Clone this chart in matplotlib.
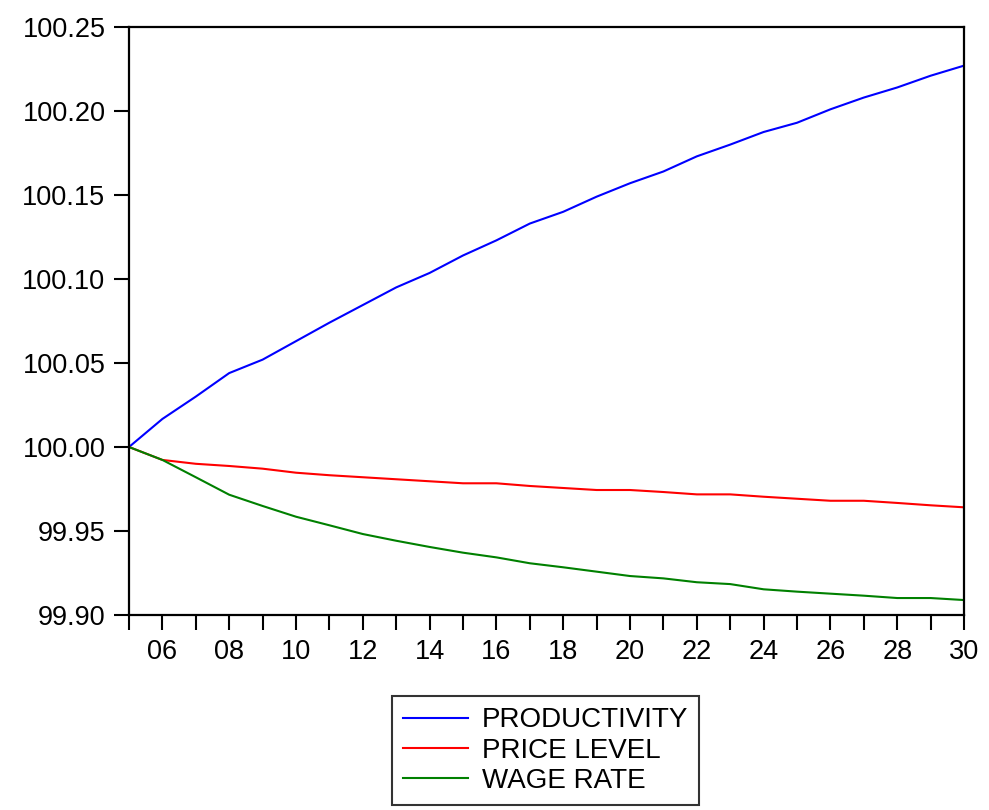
import matplotlib
matplotlib.use("Agg")
import matplotlib.pyplot as plt
from matplotlib.lines import Line2D

years = list(range(2005, 2031))
productivity = [100.000, 100.0167, 100.030, 100.044, 100.052, 100.063, 100.074, 100.0845,
                100.095, 100.1036, 100.114, 100.123, 100.133, 100.140, 100.149, 100.157,
                100.164, 100.173, 100.180, 100.1875, 100.193, 100.201, 100.208, 100.214,
                100.221, 100.227]
price_level = [100.000, 99.9923, 99.9900, 99.9887, 99.9871, 99.9847, 99.9832, 99.9820,
               99.9808, 99.9796, 99.9784, 99.9784, 99.9768, 99.9756, 99.9744, 99.9744,
               99.9732, 99.9718, 99.9718, 99.9704, 99.9692, 99.9680, 99.9680, 99.9667,
               99.9653, 99.9641]
wage_rate = [100.000, 99.9923, 99.9820, 99.9716, 99.9649, 99.9585, 99.9534, 99.9482,
             99.9442, 99.9405, 99.9371, 99.9343, 99.9308, 99.9284, 99.9258, 99.9232,
             99.9218, 99.9195, 99.9184, 99.9153, 99.9139, 99.9127, 99.9115, 99.9101,
             99.9101, 99.9089]
series_names = ["PRODUCTIVITY", "PRICE LEVEL", "WAGE RATE"]
colors = ["#0000ff", "#ff0000", "#008000"]
y_ticks = [99.90, 99.95, 100.00, 100.05, 100.10, 100.15, 100.20, 100.25]
x_label_years = list(range(2006, 2031, 2))

plt.rcParams['font.family'] = ['Liberation Sans', 'DejaVu Sans']

fig = plt.figure(figsize=(9.89, 8.10), dpi=100)
ax = fig.add_axes([129/989, 1-615/810, (964-129)/989, (615-27)/810])

for vals, c in zip([productivity, price_level, wage_rate], colors):
    ax.plot(years, vals, color=c, lw=1.5)

ax.set_xlim(2005, 2030)
ax.set_ylim(99.90, 100.25)
ax.set_yticks(y_ticks)
ax.set_yticklabels([f"{v:.2f}" for v in y_ticks], fontsize=19.5)
ax.set_xticks(years, minor=False)
ax.set_xticklabels([f"{y % 100:02d}" if y in x_label_years else "" for y in years], fontsize=19.5)
ax.tick_params(axis='both', direction='out', width=1.5, color='black')
ax.tick_params(axis='y', length=11, pad=6)
ax.tick_params(axis='x', length=11, pad=6)
for s in ax.spines.values():
    s.set_linewidth(1.6)

handles = [Line2D([0], [0], color=c, lw=1.5) for c in colors]
leg = fig.legend(handles, series_names, loc='center', bbox_to_anchor=(545.5/989, 1-750.5/810),
                 fontsize=20, frameon=True, fancybox=False, edgecolor='black',
                 handlelength=2.35, handletextpad=0.5, labelspacing=0.15, borderpad=0.4,
                 borderaxespad=0)
leg.get_frame().set_linewidth(1.5)

fig.savefig("out.png", dpi=100)
